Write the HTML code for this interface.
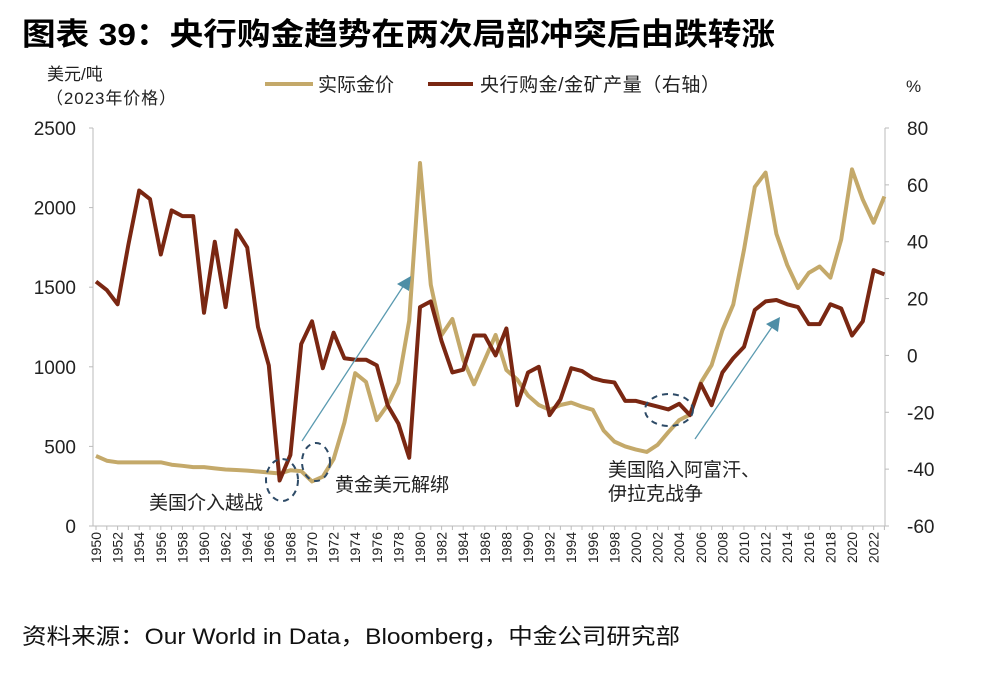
<!DOCTYPE html>
<html><head><meta charset="utf-8"><style>
body{margin:0;background:#fff;width:998px;height:677px;overflow:hidden;font-family:"Liberation Sans","Noto Sans CJK SC",sans-serif;}
svg text{font-family:"Liberation Sans","Noto Sans CJK SC",sans-serif;}
</style></head><body>
<svg id="c" width="998" height="677">
<text x="22" y="45" font-size="31" font-weight="bold" fill="#000" textLength="753" lengthAdjust="spacingAndGlyphs">图表 39：央行购金趋势在两次局部冲突后由跌转涨</text>
<text x="47" y="80" font-size="17" fill="#222">美元/吨</text>
<text x="46" y="104" font-size="17" fill="#222" textLength="130">（2023年价格）</text>
<text x="906" y="92" font-size="17" fill="#222">%</text>
<g>
<line x1="265" y1="84" x2="313" y2="84" stroke="#c4a96a" stroke-width="4"/>
<text x="318" y="91" font-size="19" fill="#222">实际金价</text>
<line x1="428" y1="84" x2="473" y2="84" stroke="#7a2712" stroke-width="4"/>
<text x="480" y="91" font-size="19" fill="#222" textLength="240">央行购金/金矿产量（右轴）</text>
</g>
<g id="axes"></g>
<g id="marks"></g>
<g>
<ellipse cx="282" cy="480" rx="16" ry="21" fill="none" stroke="#2d4a66" stroke-width="2" stroke-dasharray="6,5"/>
<ellipse cx="316" cy="462" rx="14" ry="19" fill="none" stroke="#2d4a66" stroke-width="2" stroke-dasharray="6,5"/>
<ellipse cx="669" cy="410" rx="24" ry="16" fill="none" stroke="#2d4a66" stroke-width="2" stroke-dasharray="6,5"/>
<line x1="302" y1="441" x2="404" y2="285" stroke="#5a9ab0" stroke-width="1.3"/>
<polygon points="411,276 397,284 409,291" fill="#4e8ea6"/>
<line x1="695" y1="439" x2="772" y2="327" stroke="#5a9ab0" stroke-width="1.3"/>
<polygon points="780,317 766,324 778,332" fill="#4e8ea6"/>
<text x="149" y="509" font-size="19" fill="#222">美国介入越战</text>
<text x="335" y="491" font-size="19" fill="#222">黄金美元解绑</text>
<text x="608" y="476" font-size="19" fill="#222">美国陷入阿富汗、</text>
<text x="608" y="500" font-size="19" fill="#222">伊拉克战争</text>
</g>
<text x="22" y="644" font-size="22" fill="#111" textLength="658" lengthAdjust="spacingAndGlyphs">资料来源：Our World in Data，Bloomberg，中金公司研究部</text>
</svg>
<script>
const years=[];for(let y=1950;y<=2023;y++)years.push(y);
const goldPrice=[440,410,400,400,400,400,400,385,378,370,370,362,355,352,348,342,336,330,350,345,280,310,420,650,960,905,665,760,900,1290,2280,1515,1200,1300,1045,890,1045,1200,980,920,820,760,730,760,775,750,730,600,530,500,480,465,510,590,665,700,900,1010,1230,1390,1735,2130,2220,1835,1640,1495,1590,1630,1560,1800,2240,2050,1905,2070];
const cbBuying=[26,23,18,39,58,55,35.5,51,49,49,15,40,17,44,38,10,-3.5,-44,-35,4,12,-4.5,8,-1,-1.5,-1.5,-3.5,-17.5,-24,-36,17,19,5,-6,-5,7,7,0,9.5,-17.5,-6,-4,-21,-15.5,-4.5,-5.5,-8,-9,-9.5,-16,-16,-17,-18,-19,-17,-21,-10,-17.5,-6,-1,3,16,19,19.5,18,17,11,11,18,16.5,7,12,30,28.5];
const leftTicks=[0,500,1000,1500,2000,2500];
const rightTicks=[-60,-40,-20,0,20,40,60,80];
const X0=96,DX=10.8,T=128,B=526,L=93,R=885;
const xs=y=>X0+(y-1950)*DX;
const yl=v=>B-(v/2500)*(B-T);
const yr=v=>B-((v+60)/140)*(B-T);
const NS="http://www.w3.org/2000/svg";
const ax=document.getElementById('axes'),mk=document.getElementById('marks');
function mkEl(t,a,p){const e=document.createElementNS(NS,t);for(const k in a)e.setAttribute(k,a[k]);p.appendChild(e);return e;}
let e;
e=mkEl('line',{x1:L,y1:T,x2:L,y2:B,stroke:'#bbb','stroke-width':1},ax);


e=mkEl('line',{x1:R,y1:T,x2:R,y2:B,stroke:'#bbb','stroke-width':1},ax);


e=mkEl('line',{x1:L,y1:B,x2:R,y2:B,stroke:'#bbb','stroke-width':1},ax);


leftTicks.forEach(v=>{
 mkEl('line',{x1:L-4,y1:yl(v),x2:L,y2:yl(v),stroke:'#bbb'},ax);
 e=mkEl('text',{x:L-17,y:yl(v)+7,'font-size':19,'text-anchor':'end',fill:'#222'},ax);e.textContent=v;
 
 
});
rightTicks.forEach(v=>{
 mkEl('line',{x1:R,y1:yr(v),x2:R+4,y2:yr(v),stroke:'#bbb'},ax);
 e=mkEl('text',{x:R+22,y:yr(v)+7,'font-size':19,fill:'#222'},ax);e.textContent=v;
 
 
});
years.forEach(y=>{
 mkEl('line',{x1:xs(y),y1:B,x2:xs(y),y2:B+4,stroke:'#bbb'},ax);
 if(y%2===0&&y<=2022){
  e=mkEl('text',{x:0,y:0,'font-size':14,'text-anchor':'end',fill:'#222',transform:`translate(${xs(y)+5},${B+6}) rotate(-90)`},ax);e.textContent=y;
  
  
 }
});
e=mkEl('polyline',{points:years.map((y,i)=>xs(y)+','+yl(goldPrice[i])).join(' '),fill:'none',stroke:'#c4a96a','stroke-width':4,'stroke-linejoin':'round'},mk);


e=mkEl('polyline',{points:years.map((y,i)=>xs(y)+','+yr(cbBuying[i])).join(' '),fill:'none',stroke:'#7a2712','stroke-width':4,'stroke-linejoin':'round'},mk);


</script>
</body></html>
